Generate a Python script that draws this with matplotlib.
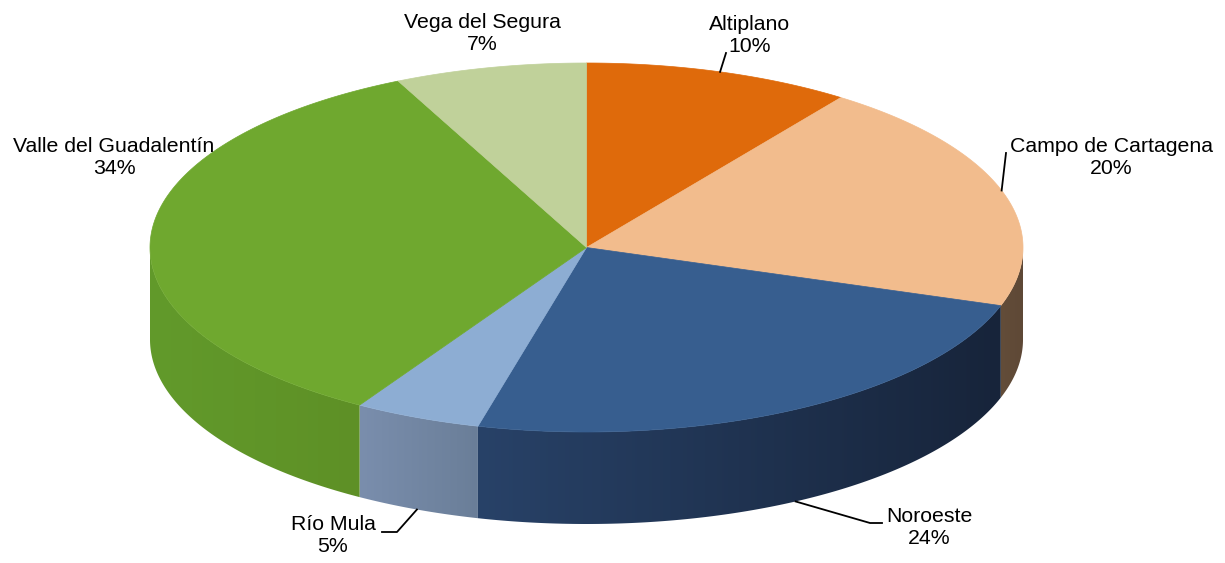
import numpy as np
import matplotlib
matplotlib.use("Agg")
import matplotlib.pyplot as plt
from matplotlib.patches import Polygon
from matplotlib.colors import to_rgb

# ---------------- data ----------------
categories = ["Altiplano", "Campo de Cartagena", "Noroeste", "Río Mula",
              "Valle del Guadalentín", "Vega del Segura"]
values = [9.9, 20.2, 23.9, 4.7, 34.2, 7.1]

# ---------------- style ----------------
top_colors = ["#DF6A0B", "#F2BC8D", "#375E8F", "#8DADD3", "#6FA82F", "#C0D19A"]
wall_left = ["#A8520A", "#634D39", "#284268", "#7A8EAD", "#629A2B", "#98A878"]
wall_right = ["#8A4408", "#5E4836", "#17243A", "#6A7E98", "#5E9026", "#8A9A6C"]

label_pos = [(750, 35), (1111, 158), (929, 528), (333, 536), (114, 157), (482, 33)]
leader_pts = [[(726, 53)], [(1006, 153)], [(870, 523), (882, 523)],
              [(397, 532), (382, 532)], [], []]

plt.rcParams['font.family'] = ['Liberation Sans', 'DejaVu Sans']

fig = plt.figure(figsize=(12.25, 5.63), dpi=100)
ax = fig.add_axes([0, 0, 1, 1])
ax.axis('off')

CX, CY, RX, RY, DEPTH = 586.5, 247.5, 436.5, 184.5, 92


def pt(t_deg, dy=0.0):
    t = np.radians(t_deg)
    return CX + RX * np.cos(t), CY - RY * np.sin(t) + dy


total = float(sum(values))
sweeps = [v / total * 360 for v in values]
starts = 90 - np.concatenate([[0], np.cumsum(sweeps)[:-1]])
ends = starts - np.array(sweeps)

# ---- side walls (front half only), with horizontal gradient ----
for i in range(len(values)):
    lo = max(ends[i], -180.0)
    hi = min(starts[i], 0.0)
    if lo >= hi:
        continue
    tt = np.linspace(lo, hi, 200)
    top = [pt(t) for t in tt]
    bot = [pt(t, DEPTH) for t in tt[::-1]]
    poly = Polygon(top + bot, closed=True, facecolor='none',
                   edgecolor='none', transform=ax.transData)
    ax.add_patch(poly)
    xs = [p[0] for p in top]
    ys = [p[1] for p in top + bot]
    xl, xr = min(xs), max(xs)
    cl = np.array(to_rgb(wall_left[i]))
    cr = np.array(to_rgb(wall_right[i]))
    f = np.linspace(0, 1, 256)[:, None]
    grad = (cl[None, :] * (1 - f) + cr[None, :] * f)[None, :, :]
    im = ax.imshow(grad, extent=(xl - 1, xr + 1, max(ys) + 1, min(ys) - 1),
                   aspect='auto', interpolation='bilinear', zorder=1)
    im.set_clip_path(poly)

# ---- top faces ----
for i in range(len(values)):
    tt = np.linspace(starts[i], ends[i], 200)
    arc = [pt(t) for t in tt]
    ax.add_patch(Polygon([(CX, CY)] + arc, closed=True,
                         facecolor=top_colors[i], edgecolor=top_colors[i],
                         linewidth=0.5, zorder=2))

# ---- labels & leader lines ----
for i, (cat, v) in enumerate(zip(categories, values)):
    mid = (starts[i] + ends[i]) / 2
    if leader_pts[i]:
        s = np.sin(np.radians(mid))
        anchor = pt(mid, DEPTH if s < 0 else 0)
        xs = [anchor[0]] + [p[0] for p in leader_pts[i]]
        ys = [anchor[1]] + [p[1] for p in leader_pts[i]]
        ax.plot(xs, ys, color='black', linewidth=1.3, zorder=3)
    x, y = label_pos[i]
    ax.text(x, y, f"{cat}\n{round(v):d}%", ha='center', va='center',
            fontsize=15.3, linespacing=1.2, color='black', zorder=4)

ax.set_xlim(0, 1225)
ax.set_ylim(563, 0)
fig.savefig("out.png", dpi=100)
